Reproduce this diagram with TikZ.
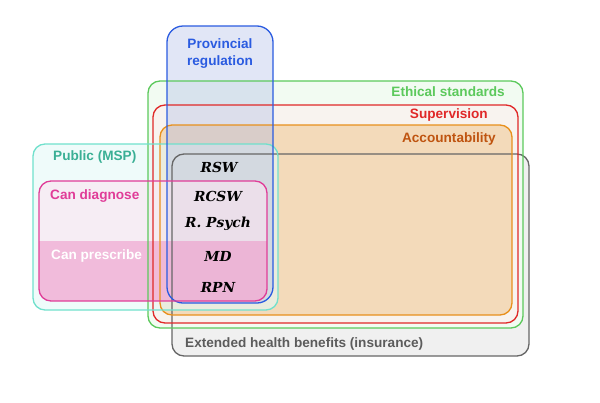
\documentclass[tikz,border=0pt]{standalone}
\usepackage{fontspec}
\setmainfont{Liberation Sans}
\newfontfamily\profserif{DejaVu Serif}
\usetikzlibrary{backgrounds}

\definecolor{extgray}{HTML}{666666}
\definecolor{ethgreen}{HTML}{5CC95C}
\definecolor{supred}{HTML}{E02828}
\definecolor{accorange}{HTML}{E8901C}
\definecolor{accbrown}{HTML}{BF5410}
\definecolor{pubteal}{HTML}{70E0CC}
\definecolor{pubtext}{HTML}{3AAF95}
\definecolor{provblue}{HTML}{2A5BE0}
\definecolor{provfill}{HTML}{A8B6E6}
\definecolor{diagpink}{HTML}{E03C98}

\begin{document}
\begin{tikzpicture}[x=1pt,y=-1pt,
    set/.style={line width=1.3pt,rounded corners=12pt},
    setlabel/.style={font=\bfseries\fontsize{13.6}{17}\selectfont,inner sep=0pt},
    prof/.style={font=\profserif\bfseries\itshape\fontsize{13.8}{16}\selectfont,inner sep=0pt}]
 \useasboundingbox (0,0) rectangle (600,402);
 % fills, back to front
 \fill[set,fill=black!6] (172,154) rectangle (529,356);
 \fill[set,fill=ethgreen!8] (148,81) rectangle (523,328);
 \fill[set,fill=supred!8,fill opacity=.6] (153,105) rectangle (518,323);
 \fill[set,fill=accorange,fill opacity=.25] (160,125) rectangle (512,315);
 \fill[set,fill=pubteal!18,fill opacity=.6] (33,144) rectangle (278,310);
 \fill[set,rounded corners=16pt,fill=provfill,fill opacity=.34] (167,26) rectangle (273,303);
 \fill[set,fill=diagpink!14,fill opacity=.6] (39,181) rectangle (267,301);
 \begin{scope}
  \clip[rounded corners=12pt] (39,181) rectangle (267,301);
  \fill[diagpink!55,fill opacity=.55] (39,241) rectangle (267,301);
 \end{scope}
 % outlines
 \draw[set,extgray] (172,154) rectangle (529,356);
 \draw[set,ethgreen] (148,81) rectangle (523,328);
 \draw[set,supred] (153,105) rectangle (518,323);
 \draw[set,accorange] (160,125) rectangle (512,315);
 \draw[set,pubteal] (33,144) rectangle (278,310);
 \draw[set,rounded corners=16pt,provblue] (167,26) rectangle (273,303);
 \draw[set,diagpink] (39,181) rectangle (267,301);
 % set labels
 \node[setlabel,provblue,align=center] (prov) at (220,54) {Provincial\\regulation};
 \node[setlabel,ethgreen,anchor=east] (eth) at (505,92) {Ethical standards};
 \node[setlabel,supred,anchor=east] (sup) at (488,115) {Supervision};
 \node[setlabel,accbrown,anchor=east] (acc) at (496,139) {Accountability};
 \node[setlabel,pubtext,anchor=west] (pub) at (53,157) {Public (MSP)};
 \node[setlabel,diagpink,anchor=west] (diag) at (50,196) {Can diagnose};
 \node[setlabel,white,anchor=west] (presc) at (51,256) {Can prescribe};
 \node[setlabel,extgray!90!black,anchor=west] (ext) at (185,344) {Extended health benefits (insurance)};
 % professions
 \node[prof] (rsw) at (219,167) {RSW};
 \node[prof] (rcsw) at (218,196) {RCSW};
 \node[prof] (psych) at (218,224) {R. Psych};
 \node[prof] (md) at (218,256) {MD};
 \node[prof] (rpn) at (218,287) {RPN};
\end{tikzpicture}
\end{document}
